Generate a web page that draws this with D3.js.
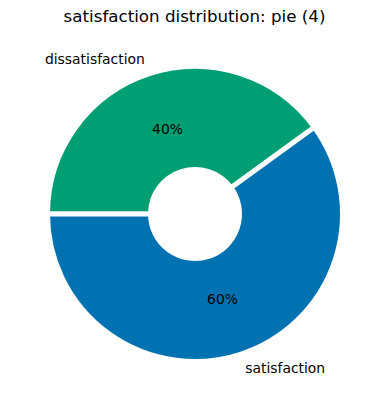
<!DOCTYPE html>
<html>
<head>
<meta charset="utf-8">
<script src="https://cdn.jsdelivr.net/npm/d3@7"></script>
<style>
  body { margin: 0; background: #fff; }
  text { font-family: "DejaVu Sans", sans-serif; }
</style>
</head>
<body>
<svg id="chart"></svg>
<script>
// data, in drawing order (clockwise from 9 o'clock)
const categories = ['dissatisfaction', 'satisfaction'];
const values = [40, 60];
const colors = ['#009E73', '#0072B2'];

const width = 389, height = 409;
const cx = 195, cy = 214;
const outerR = 145, innerR = 47;
const gap = 5;
const shift = 3; // labels sit a little further out, like exploded wedges

const svg = d3.select('#chart')
    .attr('width', width)
    .attr('height', height);

svg.append('text')
    .attr('x', width / 2)
    .attr('y', 22)
    .attr('text-anchor', 'middle')
    .style('font-size', '16.7px')
    .text('satisfaction distribution: pie (4)');

const pie = d3.pie()
    .sort(null)
    .value(d => d)
    .startAngle(-Math.PI / 2)
    .endAngle(3 * Math.PI / 2);

const arcs = pie(values);

// white stroke eats half its width on each side, so pad the radii
const arc = d3.arc()
    .innerRadius(innerR - gap / 2)
    .outerRadius(outerR + gap / 2);

const g = svg.append('g')
    .attr('transform', `translate(${cx},${cy})`);

g.selectAll('path')
    .data(arcs)
    .enter().append('path')
    .attr('d', arc)
    .attr('fill', (d, i) => colors[i])
    .attr('stroke', '#fff')
    .attr('stroke-width', gap);

const mid = d => (d.startAngle + d.endAngle) / 2;

// category labels at 1.1 r
const rl = outerR * 1.1 + shift;
g.selectAll('.lbl')
    .data(arcs)
    .enter().append('text')
    .attr('class', 'lbl')
    .attr('x', d => Math.sin(mid(d)) * rl)
    .attr('y', d => -Math.cos(mid(d)) * rl)
    .attr('dy', '0.35em')
    .attr('text-anchor', d => Math.sin(mid(d)) > 0 ? 'start' : 'end')
    .style('font-size', '13.9px')
    .text((d, i) => categories[i]);

// percentage labels at 0.6 r
const rp = outerR * 0.6 + 2;
const total = d3.sum(values);
g.selectAll('.pct')
    .data(arcs)
    .enter().append('text')
    .attr('class', 'pct')
    .attr('x', d => Math.sin(mid(d)) * rp)
    .attr('y', d => -Math.cos(mid(d)) * rp)
    .attr('dy', '0.35em')
    .attr('text-anchor', 'middle')
    .style('font-size', '13.9px')
    .text(d => Math.round(d.value / total * 100) + '%');
</script>
</body>
</html>
